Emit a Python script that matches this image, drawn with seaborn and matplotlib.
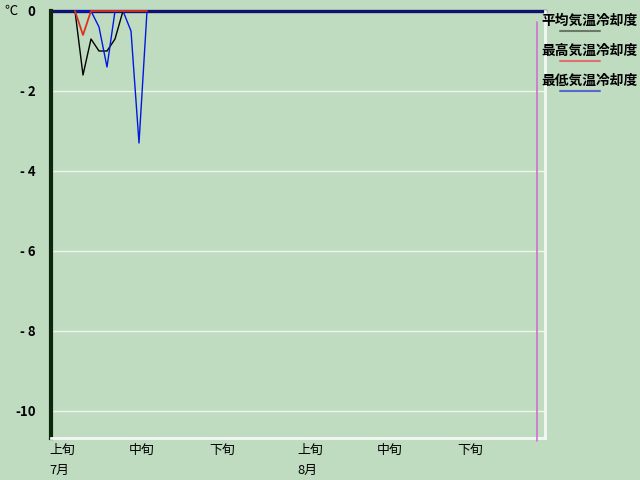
import matplotlib
matplotlib.use("Agg")
import matplotlib.pyplot as plt
from matplotlib.lines import Line2D
import seaborn as sns
import pandas as pd

# Day index counted from July 1 (0 = 7/1)
day_index = [3, 4, 5, 6, 7, 8, 9, 10, 11, 12]
avg_cool = [0, -1.6, -0.7, -1.0, -1.0, -0.7, 0, 0, 0, 0]
high_cool = [0, -0.6, 0, 0, 0, 0, 0, 0, 0, 0]
low_cool = [0, 0, 0, -0.4, -1.4, 0, 0, -0.5, -3.3, 0]

series_names = ["平均気温冷却度", "最高気温冷却度", "最低気温冷却度"]
series_colors = ["#000000", "#e03020", "#0018e0"]
legend_colors = ["#6a786a", "#e07070", "#5868d0"]

tick_pos = [0, 10, 20, 31, 41, 51]
tick_labels = ["上旬", "中旬", "下旬", "上旬", "中旬", "下旬"]
month_pos = [0, 31]
month_labels = ["7月", "8月"]
y_ticks = [0, -2, -4, -6, -8, -10]
y_labels = ["0", "- 2", "- 4", "- 6", "- 8", "-10"]
marker_day = 60.75

bg = "#c0dcc0"
sns.set_theme(style="white", rc={"axes.facecolor": bg, "figure.facecolor": bg})
plt.rcParams["font.family"] = ["Noto Sans CJK JP", "DejaVu Sans"]

df = pd.DataFrame({
    "day": day_index * 3,
    "value": avg_cool + low_cool + high_cool,
    "series": [series_names[0]] * len(day_index) + [series_names[2]] * len(day_index)
              + [series_names[1]] * len(day_index),
})

fig = plt.figure(figsize=(6.4, 4.8), dpi=100)
ax = fig.add_axes([51 / 640, 1 - 438 / 480, (545 - 51) / 640, (438 - 11) / 480])

ax.spines["top"].set_color("#101070")
ax.spines["top"].set_linewidth(2.4)
ax.spines["top"].set_zorder(2)
ax.spines["left"].set_color("#0c260c")
ax.spines["left"].set_linewidth(3)
ax.spines["bottom"].set_color("#f4f8f4")
ax.spines["bottom"].set_linewidth(2)
ax.spines["right"].set_color("#f4f8f4")
ax.spines["right"].set_linewidth(2)

order = [(series_names[0], series_colors[0], 1.0),
         (series_names[2], series_colors[2], 1.0),
         (series_names[1], series_colors[1], 1.3)]
for k, (name, col, lw) in enumerate(order):
    sns.lineplot(data=df[df["series"] == name], x="day", y="value", color=col,
                 linewidth=lw, ax=ax, legend=False, estimator=None)
    ln = ax.lines[-1]
    ln.set_zorder(5 + k)
    ln.set_clip_on(False)

ax.set_xlim(0, 61.75)
ax.set_ylim(-10.675, 0)
ax.set_xlabel("")
ax.set_ylabel("")

for yv in y_ticks[1:]:
    ax.axhline(yv, color="#eef4ee", linewidth=1.0, zorder=1)

ax.axvline(marker_day, ymin=-0.006, ymax=0.975, color="#d070d0", linewidth=1.2,
           clip_on=False, zorder=3)

ax.set_yticks(y_ticks)
ax.set_yticklabels(y_labels, fontsize=9.5, fontweight="bold", color="black")
ax.tick_params(axis="y", length=0, pad=11)
ax.set_xticks(tick_pos)
ax.set_xticklabels(tick_labels, fontsize=9.3, color="black", ha="left")
ax.tick_params(axis="x", length=0, pad=4)
for t in ax.get_xticklabels():
    t.set_x(t.get_position()[0])
    t.set_transform(t.get_transform() + matplotlib.transforms.ScaledTranslation(-2 / 100, 0, fig.dpi_scale_trans))

for p, lab in zip(month_pos, month_labels):
    ax.text(p, -0.075, lab, transform=ax.get_xaxis_transform() +
            matplotlib.transforms.ScaledTranslation(-2 / 100, 0, fig.dpi_scale_trans),
            ha="left", va="center", fontsize=9.3, color="black")

fig.text(4 / 640, 1 - 11 / 480, "℃", fontsize=9.5, ha="left", va="center", color="black")

for i, (name, lc) in enumerate(zip(series_names, legend_colors)):
    ty = 21 + 30 * i
    fig.text(541 / 640, 1 - ty / 480, name, fontsize=9.9, fontweight="bold",
             ha="left", va="center", color="black")
    ly = 1 - (ty + 10) / 480
    fig.add_artist(Line2D([560 / 640, 600 / 640], [ly, ly], color=lc, linewidth=1.5,
                          transform=fig.transFigure))

fig.savefig("out.png", dpi=100, facecolor=bg)
